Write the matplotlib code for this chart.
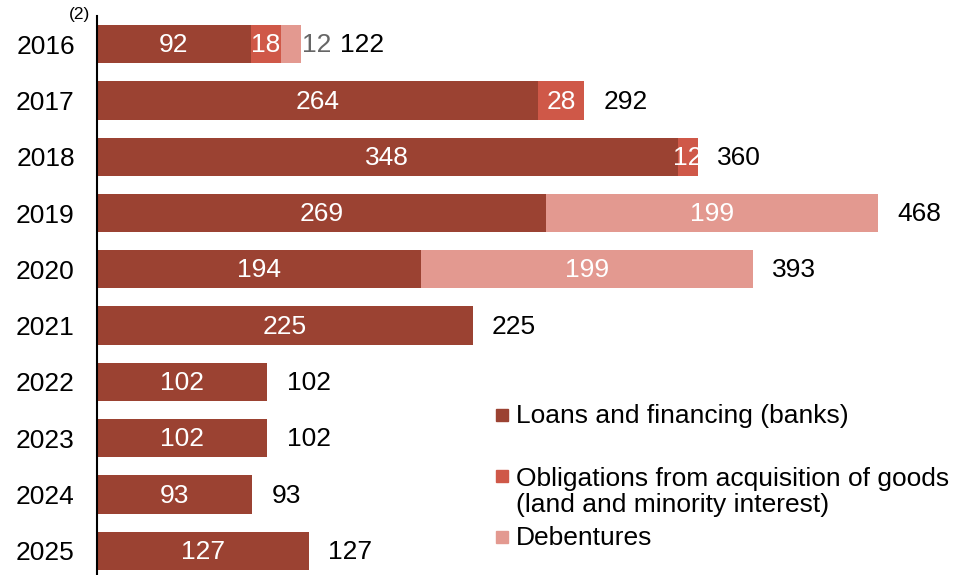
import matplotlib.pyplot as plt
from matplotlib.patches import Rectangle
import numpy as np

plt.rcParams['font.family'] = ['Liberation Sans', 'DejaVu Sans']

years = ['2016', '2017', '2018', '2019', '2020', '2021', '2022', '2023', '2024', '2025']
loans = [92, 264, 348, 269, 194, 225, 102, 102, 93, 127]
obligations = [18, 28, 12, 0, 0, 0, 0, 0, 0, 0]
debentures = [12, 0, 0, 199, 199, 0, 0, 0, 0, 0]

labels = ['Loans and financing (banks)',
          'Obligations from acquisition of goods\n(land and minority interest)',
          'Debentures']
colors = ['#9b4232', '#cf5848', '#e39990']

FS = 19

fig = plt.figure(figsize=(9.55, 5.75), dpi=100)
ax = fig.add_axes([97 / 955, 0, 1 - 97 / 955, 1 - 16 / 575])

y = np.arange(len(years))
h = 0.68
series = [loans, obligations, debentures]
left = np.zeros(len(years))
for vals, c in zip(series, colors):
    vals = np.array(vals)
    ax.barh(y, vals, left=left, height=h, color=c, edgecolor='none')
    for i, v in enumerate(vals):
        if v == 0:
            continue
        if v <= 12 and c == colors[2]:
            # too narrow, put the label just outside the bar
            ax.annotate(str(v), (left[i] + v, i + 0.02), xytext=(1, 0), textcoords='offset points',
                        ha='left', va='center', fontsize=FS, color='#666666')
        else:
            ax.text(left[i] + v / 2, i + 0.02, str(v), ha='center', va='center',
                    fontsize=FS, color='white')
    left += vals

totals = left
for i, t in enumerate(totals):
    off = 28 if i == 0 else 14
    ax.annotate(f'{int(t)}', (t, i + 0.02), xytext=(off, 0), textcoords='offset points',
                ha='left', va='center', fontsize=FS, color='black')

ax.set_xlim(0, (955 - 97) / 1.669)
ax.set_ylim(9.43, -0.5)
ax.set_yticks(y)
ax.set_yticklabels(years, fontsize=FS)
ax.tick_params(axis='y', length=0, pad=16)
ax.set_xticks([])
for s in ['top', 'right', 'bottom']:
    ax.spines[s].set_visible(False)
ax.spines['left'].set_linewidth(1.5)

fig.text(69 / 955, 1 - 14 / 575, '(2)', fontsize=12.5, ha='left', va='center')

# legend drawn by hand for the uneven spacing
leg_y = [415, 476, 537]
text_y = [416, 492, 538]
for ly, ty, lab, c in zip(leg_y, text_y, labels, colors):
    fig.patches.append(Rectangle((496 / 955, 1 - (ly + 6) / 575), 12 / 955, 12 / 575,
                                 transform=fig.transFigure, color=c))
    fig.text(516 / 955, 1 - ty / 575, lab, fontsize=FS, ha='left', va='center',
             linespacing=1.15)

fig.savefig('out.png', dpi=100)
